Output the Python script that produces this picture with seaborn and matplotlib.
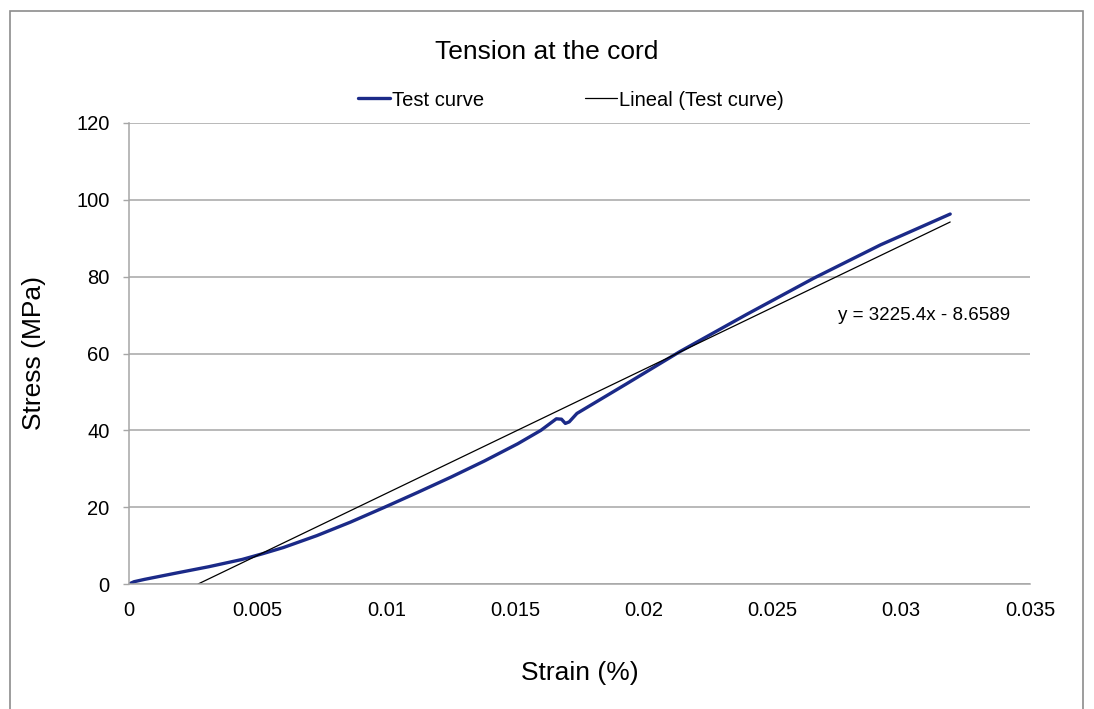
import numpy as np
import pandas as pd
import matplotlib
matplotlib.use("Agg")
import matplotlib.pyplot as plt
import seaborn as sns
from matplotlib.patches import Rectangle

# ---- data ----
strain = [0.0, 0.0002, 0.0006, 0.0018, 0.0031, 0.0044, 0.0052, 0.0060, 0.0073,
          0.0086, 0.0099, 0.0112, 0.0125, 0.0138, 0.0151, 0.0160, 0.0166,
          0.0168, 0.01695, 0.0171, 0.0174, 0.0193, 0.0214, 0.0240, 0.0266,
          0.0292, 0.0319]
stress = [0.0, 0.6, 1.2, 2.8, 4.5, 6.4, 7.9, 9.5, 12.6,
          16.1, 19.9, 23.8, 27.8, 32.0, 36.5, 40.0, 43.0,
          42.9, 41.8, 42.2, 44.4, 52.0, 60.5, 70.2, 79.6,
          88.3, 96.3]
fit_slope = 3225.4
fit_intercept = -8.6589
x_ticks = [0, 0.005, 0.01, 0.015, 0.02, 0.025, 0.03, 0.035]
x_tick_labels = ["0", "0.005", "0.01", "0.015", "0.02", "0.025", "0.03", "0.035"]
y_ticks = [0, 20, 40, 60, 80, 100, 120]
equation_text = "y = 3225.4x - 8.6589"

df_curve = pd.DataFrame({"strain": strain, "stress": stress})
fit_x = [-fit_intercept / fit_slope, max(strain)]
df_fit = pd.DataFrame({"strain": fit_x,
                       "stress": [fit_slope * v + fit_intercept for v in fit_x]})

sns.set_theme(style="white")
plt.rcParams["font.family"] = ["Liberation Sans", "DejaVu Sans"]
plt.rcParams["text.color"] = "black"
plt.rcParams["axes.labelcolor"] = "black"
plt.rcParams["xtick.color"] = "black"
plt.rcParams["ytick.color"] = "black"
plt.rcParams["lines.solid_joinstyle"] = "round"

W, H = 1094, 709
fig = plt.figure(figsize=(W / 100, H / 100), dpi=100)
ax = fig.add_axes([129 / W, 1 - 584 / H, (1030 - 129) / W, (584 - 123) / H])

navy = "#1B2A88"
sns.lineplot(data=df_curve, x="strain", y="stress", ax=ax, color=navy,
             linewidth=2.4, sort=False, label="Test curve")
sns.lineplot(data=df_fit, x="strain", y="stress", ax=ax, color="black",
             linewidth=0.9, label="Lineal (Test curve)")

ax.set_xlim(0, 0.035)
ax.set_ylim(0, 120)
ax.set_xticks(x_ticks)
ax.set_xticklabels(x_tick_labels)
ax.set_yticks(y_ticks)
ax.tick_params(axis="both", labelsize=14.5, labelcolor="black")
ax.tick_params(axis="x", length=0, pad=12)
ax.tick_params(axis="y", length=4, width=1, color="#A6A6A6", pad=10, left=True)

ax.yaxis.grid(True, color="#A6A6A6", linewidth=1.1)
ax.xaxis.grid(False)
for s in ["top", "right"]:
    ax.spines[s].set_visible(False)
for s in ["left", "bottom"]:
    ax.spines[s].set_color("#A6A6A6")
    ax.spines[s].set_linewidth(1.1)

ax.set_xlabel("Strain (%)", fontsize=19, labelpad=30, color="black")
ax.set_ylabel("Stress (MPa)", fontsize=19, labelpad=22, color="black")

ax.text(0.02754, 69.8, equation_text, fontsize=13.5, va="center", ha="left", color="black")

fig.text(0.5, 1 - 52 / H, "Tension at the cord", fontsize=19, ha="center",
         va="center", color="black")

leg = ax.legend(loc="center", bbox_to_anchor=(571 / W, 1 - 100 / H),
                bbox_transform=fig.transFigure, ncol=2, frameon=False,
                fontsize=14.5, handlelength=1.6, handletextpad=0.1, columnspacing=5.0)
for t in leg.get_texts():
    t.set_color("black")

fig.patches.append(Rectangle((10 / W, -0.05), (1083 - 10) / W, 1 - 11 / H + 0.05,
                             transform=fig.transFigure, fill=False,
                             edgecolor="#8C8C8C", linewidth=1.2))

fig.savefig("out.png", dpi=100)
